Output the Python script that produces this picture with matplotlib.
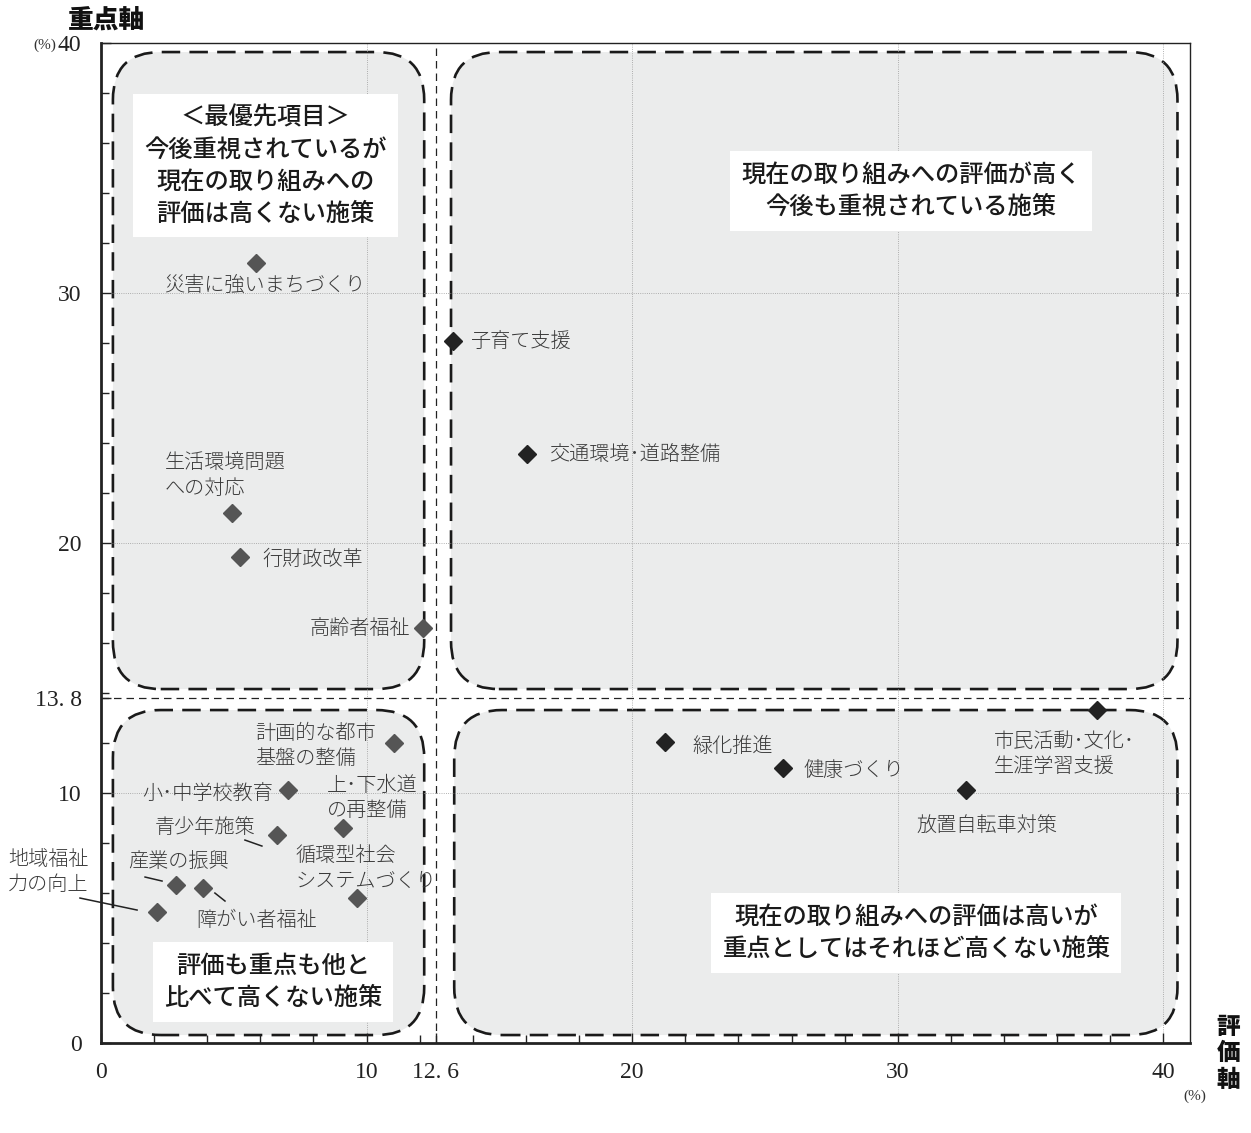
import matplotlib.pyplot as plt
from matplotlib.patches import FancyBboxPatch

plt.rcParams['font.family'] = ['Noto Sans CJK JP', 'DejaVu Sans']

# policy items: evaluation (x) and priority (y), in %
items = ['災害に強いまちづくり', '子育て支援', '交通環境・道路整備', '生活環境問題への対応',
         '行財政改革', '高齢者福祉', '計画的な都市基盤の整備', '小・中学校教育',
         '上・下水道の再整備', '青少年施策', '循環型社会システムづくり', '産業の振興',
         '障がい者福祉', '地域福祉力の向上', '緑化推進', '健康づくり',
         '市民活動・文化・生涯学習支援', '放置自転車対策']
eval_x = [5.84, 13.26, 16.05, 4.93, 5.24, 12.13, 11.04, 7.04, 9.11, 6.63, 9.64, 2.82,
          3.84, 2.11, 21.24, 25.69, 37.5, 32.58]
prio_y = [31.2, 28.1, 23.56, 21.2, 19.44, 16.6, 12.0, 10.12, 8.6, 8.32, 5.8, 6.32,
          6.2, 5.24, 12.04, 11.0, 13.32, 10.12]

avg_x = 12.6
avg_y = 13.8

# label text, position, alignment
labels = [
    ('災害に強いまちづくり', 6.17, 30.3, 'center'),
    ('子育て支援', 13.94, 28.08, 'left'),
    ('交通環境･道路整備', 16.87, 23.56, 'left'),
    ('生活環境問題\nへの対応', 2.41, 22.7, 'left'),
    ('行財政改革', 6.06, 19.36, 'left'),
    ('高齢者福祉', 11.64, 16.6, 'right'),
    ('計画的な都市\n基盤の整備', 5.8, 11.88, 'left'),
    ('小･中学校教育', 6.48, 10.0, 'right'),
    ('上･下水道\nの再整備', 8.51, 9.8, 'left'),
    ('青少年施策', 2.03, 8.64, 'left'),
    ('循環型社会\nシステムづくり', 7.31, 7.0, 'left'),
    ('産業の振興', 1.02, 7.24, 'left'),
    ('障がい者福祉', 3.58, 4.92, 'left'),
    ('地域福祉\n力の向上', -3.5, 6.84, 'left'),
    ('緑化推進', 22.26, 11.88, 'left'),
    ('健康づくり', 26.44, 10.92, 'left'),
    ('市民活動･文化･\n生涯学習支援', 33.6, 11.56, 'left'),
    ('放置自転車対策', 33.37, 8.72, 'center'),
]

leaders = [
    ((5.42, 6.06), (8.12, 7.88)),
    ((1.66, 2.3), (6.64, 6.48)),
    ((4.29, 4.67), (6.0, 5.68)),
    ((-0.79, 1.36), (5.8, 5.32)),
]

# quadrant regions (x0, y0, x1, y1) and their captions
regions = [(0.45, 14.16, 12.17, 39.64), (13.18, 14.16, 40.53, 39.64),
           (0.45, 0.32, 12.17, 13.32), (13.3, 0.32, 40.53, 13.32)]
captions = [
    ('＜最優先項目＞\n今後重視されているが\n現在の取り組みへの\n評価は高くない施策', 6.2, 35.1),
    ('現在の取り組みへの評価が高く\n今後も重視されている施策', 30.5, 34.08),
    ('評価も重点も他と\n比べて高くない施策', 6.48, 2.44),
    ('現在の取り組みへの評価は高いが\n重点としてはそれほど高くない施策', 30.7, 4.4),
]

fig = plt.figure(figsize=(12.51, 11.33), dpi=100)
ax = fig.add_axes([0.0807, 0.0794, 0.8705, 0.8826])
ax.set_xlim(0, 41)
ax.set_ylim(0, 40)

# rounded dashed regions
for x0, y0, x1, y1 in regions:
    box = FancyBboxPatch((x0, y0), x1 - x0, y1 - y0,
                         boxstyle='round,pad=0,rounding_size=1.8',
                         mutation_aspect=1.06, facecolor='#ebecec',
                         edgecolor='#1a1a1a', linewidth=1.9,
                         linestyle=(0, (7, 3.5)), zorder=0.5)
    ax.add_patch(box)

# grid lines
for v in [10, 20, 30, 40]:
    ax.axvline(v, color='#999999', lw=0.6, ls=':', zorder=1)
    ax.axhline(v, color='#999999', lw=0.6, ls=':', zorder=1)
ax.axvline(avg_x, color='#222222', lw=0.9, ls=(0, (6, 4)), zorder=1.2)
ax.axhline(avg_y, color='#222222', lw=0.9, ls=(0, (6, 4)), zorder=1.2)

for cap, cx, cy in captions:
    ax.text(cx, cy, cap, ha='center', va='center', fontsize=17.5, color='#1a1a1a',
            fontweight='medium', linespacing=1.3, zorder=3,
            bbox=dict(boxstyle='square,pad=0.45', facecolor='white', edgecolor='none'))

# points
for name, x, y in zip(items, eval_x, prio_y):
    c = '#555555' if x < avg_x else '#222222'
    ax.plot(x, y, marker='D', markersize=9, color=c, zorder=4, clip_on=False)

for txt, lx, ly, ha in labels:
    ax.text(lx, ly, txt, ha=ha, va='center', fontsize=14.5, color='#3a3a3a',
            fontweight='light', linespacing=1.3, zorder=4, clip_on=False)

for xs, ys in leaders:
    ax.plot(xs, ys, color='#222222', lw=1.1, zorder=4, clip_on=False)

# axes styling
for s in ax.spines.values():
    s.set_linewidth(1.0)
    s.set_color('#222222')
ax.spines['left'].set_linewidth(2.0)
ax.spines['bottom'].set_linewidth(2.0)

ax.set_xticks([0, 10, 12.6, 20, 30, 40])
ax.set_xticklabels(['0', '10', '12. 6', '20', '30', '40'])
ax.set_yticks([0, 10, 13.8, 20, 30, 40])
ax.set_yticklabels(['0', '10', '13. 8', '20', '30', '40'])
ax.set_xticks(range(2, 41, 2), minor=True)
ax.set_yticks(range(2, 40, 2), minor=True)
ax.tick_params(which='major', direction='in', length=7, width=1, pad=14,
               labelsize=17, colors='#222222')
ax.tick_params(which='minor', direction='in', length=6, width=1, colors='#222222')
for t in ax.get_xticklabels() + ax.get_yticklabels():
    t.set_family('Liberation Serif')

fig.text(0.054, 0.982, '重点軸', ha='left', va='center', fontsize=18.5,
         fontweight='black', color='#111111')
fig.text(0.027, 0.960, '(%)', ha='left', va='center', fontsize=11,
         family='Liberation Serif', color='#333333')
fig.text(0.982, 0.0706, '評\n価\n軸', ha='center', va='center', fontsize=17,
         fontweight='black', color='#111111', linespacing=1.1)
fig.text(0.955, 0.032, '(%)', ha='center', va='center', fontsize=11,
         family='Liberation Serif', color='#333333')

fig.savefig('out.png', dpi=100)
